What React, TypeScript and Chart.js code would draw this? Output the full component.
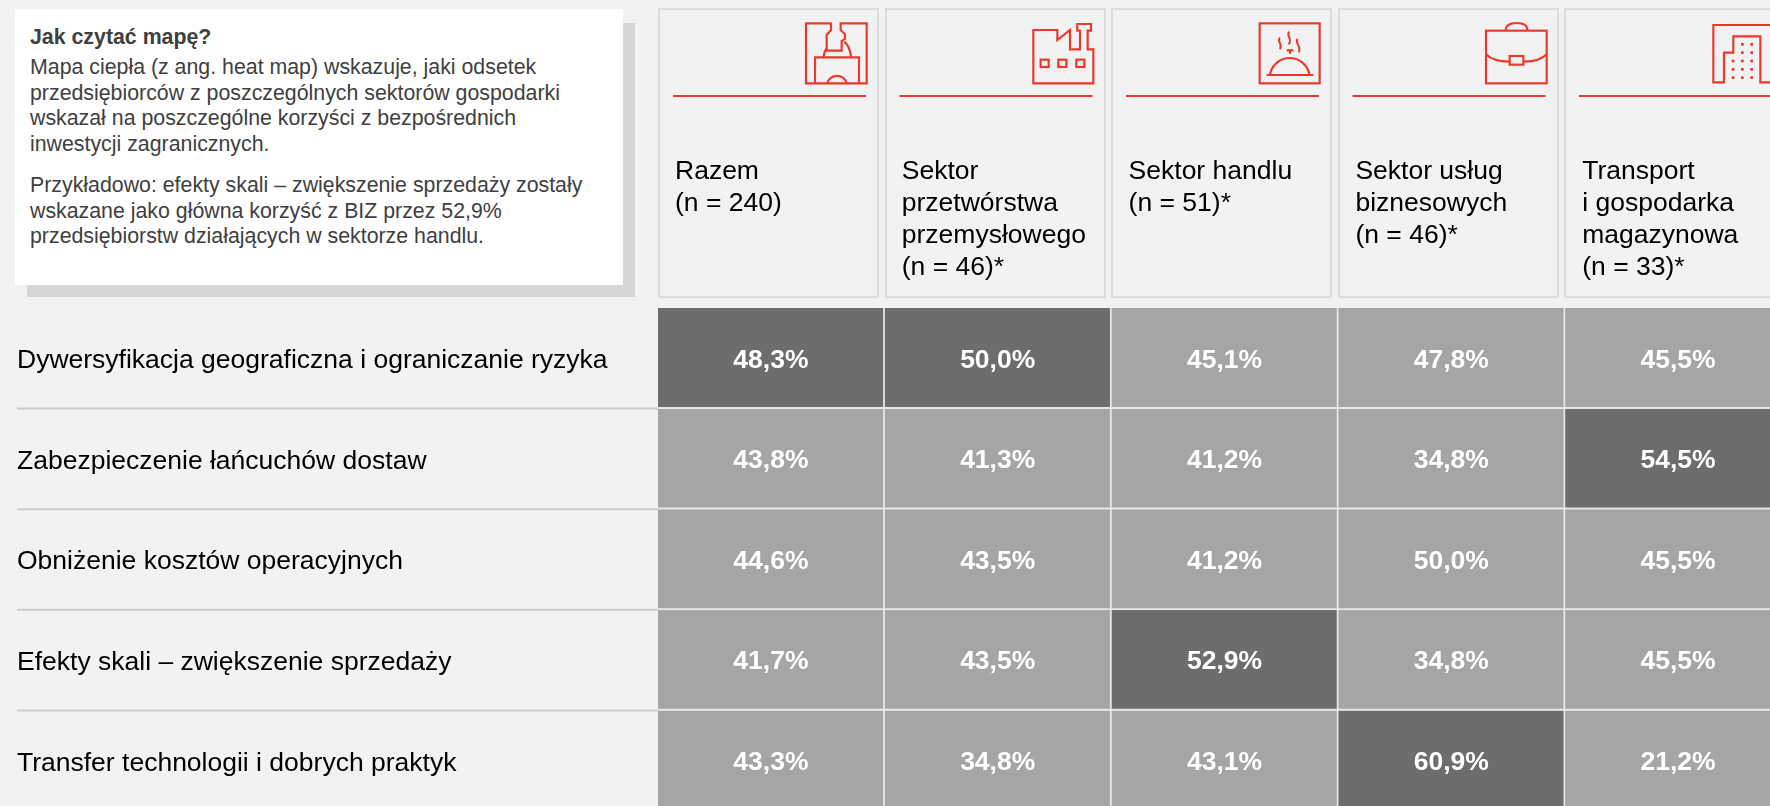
import React, { useEffect, useRef } from "react";
import { Chart, registerables } from "chart.js";

Chart.register(...registerables);

const columnLabels: string[][] = [
  ["Razem", "(n = 240)"],
  ["Sektor", "przetwórstwa", "przemysłowego", "(n = 46)*"],
  ["Sektor handlu", "(n = 51)*"],
  ["Sektor usług", "biznesowych", "(n = 46)*"],
  ["Transport", "i gospodarka", "magazynowa", "(n = 33)*"],
];
const rowLabels = [
  "Dywersyfikacja geograficzna i ograniczanie ryzyka",
  "Zabezpieczenie łańcuchów dostaw",
  "Obniżenie kosztów operacyjnych",
  "Efekty skali – zwiększenie sprzedaży",
  "Transfer technologii i dobrych praktyk",
];
const dywersyfikacja = [48.3, 50.0, 45.1, 47.8, 45.5];
const zabezpieczenie = [43.8, 41.3, 41.2, 34.8, 54.5];
const obnizenie = [44.6, 43.5, 41.2, 50.0, 45.5];
const efektySkali = [41.7, 43.5, 52.9, 34.8, 45.5];
const transfer = [43.3, 34.8, 43.1, 60.9, 21.2];
const rowValues = [dywersyfikacja, zabezpieczenie, obnizenie, efektySkali, transfer];

const infoTitle = "Jak czytać mapę?";
const infoLines1 = [
  "Mapa ciepła (z ang. heat map) wskazuje, jaki odsetek",
  "przedsiębiorców z poszczególnych sektorów gospodarki",
  "wskazał na poszczególne korzyści z bezpośrednich",
  "inwestycji zagranicznych.",
];
const infoLines2 = [
  "Przykładowo: efekty skali – zwiększenie sprzedaży zostały",
  "wskazane jako główna korzyść z BIZ przez 52,9%",
  "przedsiębiorstw działających w sektorze handlu.",
];

const DARK = "#6d6d6d";
const LIGHT = "#a5a5a5";
const GAP = "#e8e8e8";
const BG = "#f2f2f2";
const RED = "#e8392b";
const FONT = "'Liberation Sans', Arial, sans-serif";

const columnMax = columnLabels.map((_, c) => Math.max(...rowValues.map((r) => r[c])));

const cellLabels = {
  id: "cellLabels",
  afterDatasetsDraw(chart: any) {
    const { ctx, chartArea, scales } = chart;
    ctx.save();
    ctx.strokeStyle = "#cbcbcb";
    ctx.lineWidth = 2;
    for (let r = 1; r < rowLabels.length; r++) {
      const y = scales.y.getPixelForValue(r);
      ctx.beginPath();
      ctx.moveTo(17, y);
      ctx.lineTo(chartArea.left, y);
      ctx.stroke();
    }
    ctx.font = `bold 26.5px ${FONT}`;
    ctx.fillStyle = "#ffffff";
    ctx.textAlign = "center";
    ctx.textBaseline = "middle";
    rowValues.forEach((vals, r) => {
      const meta = chart.getDatasetMeta(r);
      vals.forEach((v, c) => {
        const el = meta.data[c];
        ctx.fillText(v.toFixed(1).replace(".", ",") + "%", el.x - 0.5, (el.y + el.base) / 2 + 2);
      });
    });
    ctx.restore();
  },
};

const noPadding = (s: any) => {
  s.paddingLeft = 0;
  s.paddingRight = 0;
  s.paddingTop = 0;
  s.paddingBottom = 0;
};

function Icons() {
  const g = (x: number, children: React.ReactNode, key: string) => (
    <g key={key} transform={`translate(${x} 15) scale(${1 / 3})`}>
      {children}
    </g>
  );
  return (
    <svg
      width={1770}
      height={120}
      style={{ position: "absolute", left: 0, top: 0 }}
      fill="none"
      stroke={RED}
      strokeWidth={6.5}
    >
      {g(795, <>
        <path d="M110 25H33V205H215V25H137V45L150 58V72L140 78V107H95V60L108 45V25" />
        <path d="M95 100Q88 108 86 125M148 80Q165 95 168 125M60 205V127H192V205M97 205A30 30 0 0 1 155 205" />
      </>, "a")}
      {g(1020, <>
        <path d="M40 45H112V75L150 45V103H180V47H172V27H213V47H203V103H220V205H40Z" />
        <rect x={62} y={134} width={24} height={22} />
        <rect x={115} y={134} width={24} height={22} />
        <rect x={169} y={134} width={24} height={22} />
      </>, "b")}
      {g(1250, <>
        <rect x={29} y={25} width={180} height={180} />
        <path d="M60 178A60 60 0 0 1 178 178M50 180H190M110 106H130M120 106V116" />
        <path d="M90 68C78 78 100 86 90 103M118 50C106 62 130 72 116 88M143 72C132 84 156 92 146 112" strokeWidth={6} />
      </>, "c")}
      {g(1475, <>
        <rect x={33} y={47} width={182} height={158} />
        <path d="M92 47Q92 24 125 24Q158 24 157 47M33 118Q55 140 103 140M145 140Q195 140 215 118" />
        <rect x={104} y={123} width={41} height={26} />
      </>, "d")}
      {g(1685, <>
        <path d="M255 30H85V202H117V113H145V64H226V202H255" />
        <g stroke="none" fill={RED}>
          {[[172, 88], [200, 88], [172, 113], [200, 113], [144, 138], [172, 138], [200, 138], [144, 163], [172, 163], [200, 163], [144, 188], [172, 188], [200, 188]].map(([x, y]) => (
            <rect key={`${x}-${y}`} x={x - 4} y={y - 4} width={8} height={8} />
          ))}
        </g>
      </>, "e")}
      {columnLabels.map((_, i) => (
        <line key={i} x1={673 + i * 226.5} x2={866 + i * 226.5} y1={96} y2={96} strokeWidth={2} />
      ))}
    </svg>
  );
}

export default function App() {
  const ref = useRef<HTMLCanvasElement>(null);
  useEffect(() => {
    const chart = new Chart(ref.current!, {
      type: "bar",
      data: {
        labels: columnLabels as any,
        datasets: rowValues.map((vals, r) => ({
          label: rowLabels[r],
          data: vals.map(() => [r, r + 1]) as any,
          backgroundColor: vals.map((v, c) => (v === columnMax[c] ? DARK : LIGHT)),
          borderColor: GAP,
          borderWidth: { top: 0, left: 0, right: 2, bottom: 2 },
          borderSkipped: false,
          grouped: false,
          barPercentage: 1,
          categoryPercentage: 1,
        })),
      },
      options: {
        animation: false,
        responsive: false,
        layout: { padding: { left: 17, right: 0, top: 0, bottom: 0 } },
        plugins: { legend: { display: false }, tooltip: { enabled: false } },
        scales: {
          x: {
            position: "top",
            grid: { display: false, drawTicks: false },
            border: { display: false },
            afterFit: (s: any) => { s.height = 308; noPadding(s); },
            ticks: {
              autoSkip: false,
              maxRotation: 0,
              minRotation: 0,
              align: "start",
              crossAlign: "far",
              padding: 24,
              labelOffset: -96.4,
              color: "#000000",
              font: { family: FONT, size: 26.5, lineHeight: 32 / 26.5 },
            },
          },
          y: {
            type: "linear",
            min: 0,
            max: 5,
            reverse: true,
            grid: { display: false, drawTicks: false },
            border: { display: false },
            afterBuildTicks: (s: any) => { s.ticks = rowLabels.map((_, i) => ({ value: i + 0.5 })); },
            afterFit: (s: any) => { s.width = 641; noPadding(s); },
            ticks: {
              autoSkip: false,
              crossAlign: "far",
              padding: 0,
              labelOffset: 2.5,
              color: "#000000",
              font: { family: FONT, size: 26.5 },
              callback: (_v: any, i: number) => rowLabels[i],
            },
          },
        },
      } as any,
      plugins: [cellLabels],
    });
    return () => chart.destroy();
  }, []);

  const infoStyle: React.CSSProperties = {
    position: "absolute",
    left: 30,
    fontFamily: FONT,
    fontSize: 21.33,
    lineHeight: "25.6px",
    color: "#404040",
    whiteSpace: "nowrap",
  };

  return (
    <div style={{ position: "fixed", left: 0, top: 0, width: 1770, height: 806, overflow: "hidden", background: BG }}>
      <div style={{ position: "absolute", left: 27, top: 23, width: 608, height: 274, background: "#d6d6d6" }} />
      <div style={{ position: "absolute", left: 15, top: 9, width: 608, height: 276, background: "#ffffff" }} />
      <div style={{ ...infoStyle, top: 25, fontWeight: "bold" }}>{infoTitle}</div>
      <div style={{ ...infoStyle, top: 55 }}>{infoLines1.map((l) => <div key={l}>{l}</div>)}</div>
      <div style={{ ...infoStyle, top: 173 }}>{infoLines2.map((l) => <div key={l}>{l}</div>)}</div>
      {columnLabels.map((_, i) => (
        <div
          key={i}
          style={{
            position: "absolute",
            left: 658 + i * 226.6,
            top: 8,
            width: 221,
            height: 290,
            boxSizing: "border-box",
            border: "2px solid #dcdcdc",
          }}
        />
      ))}
      <Icons />
      <canvas ref={ref} width={1792} height={811} style={{ position: "absolute", left: 0, top: 0, display: "block" }} />
    </div>
  );
}
